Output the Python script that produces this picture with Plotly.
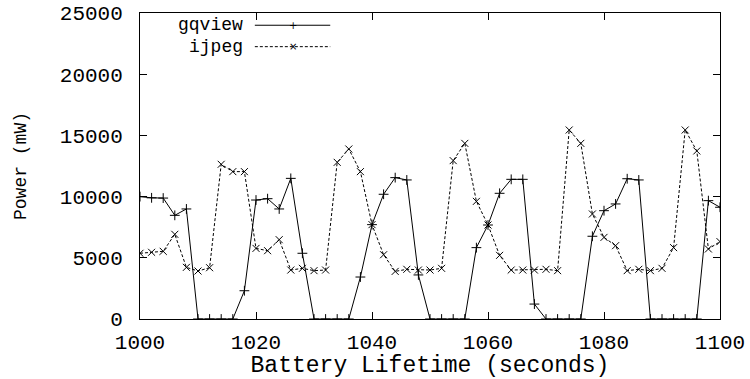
import plotly.graph_objects as go

time_s = list(range(1000, 1101, 2))
gqview = [10000, 9900, 9880, 8470, 8990, 0, 0, 0, 0, 2310,
          9720, 9830, 8990, 11490, 5370, 0, 0, 0, 0, 3430,
          7710, 10190, 11550, 11360, 3600, 0, 0, 0, 0, 5830,
          7680, 10270, 11410, 11410, 1220, 0, 0, 0, 0, 6760,
          8850, 9400, 11460, 11360, 0, 0, 0, 0, 0, 9670, 9130]
ijpeg = [5370, 5450, 5530, 6920, 4220, 3920, 4190, 12640, 12040, 12040,
         5770, 5580, 6480, 4000, 4140, 3950, 4000, 12800, 13890, 12040,
         7710, 5250, 3890, 4060, 4000, 4000, 4140, 12940, 14350, 9610,
         7680, 5200, 4000, 4000, 4000, 4060, 3950, 15440, 14350, 8580,
         6670, 5990, 3950, 4060, 3950, 4140, 5830, 15440, 13730, 5720, 6320]
x_ticks = [1000, 1020, 1040, 1060, 1080, 1100]
y_ticks = [0, 5000, 10000, 15000, 20000, 25000]

FONT = "Liberation Mono"
FS = 21

fig = go.Figure()
fig.add_trace(go.Scatter(x=time_s, y=gqview, mode="lines+markers", name="gqview",
                         line=dict(color="black", width=1),
                         marker=dict(symbol="cross-thin", size=7, line=dict(color="black", width=1))))
fig.add_trace(go.Scatter(x=time_s, y=ijpeg, mode="lines+markers", name="ijpeg",
                         line=dict(color="black", width=1, dash="3px,2px"),
                         marker=dict(symbol="x-thin", size=7, line=dict(color="black", width=1))))

# gnuplot-style legend (text, then sample)
legend_rows = [("gqview", "solid", "+", 0.960), ("ijpeg", "3px,2px", "×", 0.890)]
for name, dash, sym, yp in legend_rows:
    fig.add_annotation(x=0.181, y=yp, xref="paper", yref="paper", text=name, showarrow=False,
                       xanchor="right", yanchor="middle",
                       font=dict(family=FONT, size=18, color="black"))
    fig.add_shape(type="line", xref="paper", yref="paper", x0=0.198, x1=0.328, y0=yp, y1=yp,
                  line=dict(color="black", width=1, dash=dash))
    fig.add_annotation(x=0.263, y=yp, xref="paper", yref="paper", text=sym, showarrow=False,
                       xanchor="center", yanchor="middle",
                       font=dict(family="DejaVu Sans", size=10, color="black"))

fig.update_layout(
    width=750, height=379,
    margin=dict(l=140, r=30, t=13, b=60),
    paper_bgcolor="white", plot_bgcolor="white",
    showlegend=False,
    font=dict(family=FONT, size=FS, color="black"),
    xaxis=dict(range=[1000, 1100], tickvals=x_ticks, ticktext=[str(v) for v in x_ticks],
               ticks="inside", ticklen=7, tickcolor="black", showline=True, linecolor="black",
               linewidth=1, mirror="ticks", showgrid=False, zeroline=False, automargin=False,
               ticklabelstandoff=4,
               title=dict(text="Battery Lifetime (seconds)", standoff=0, font=dict(family=FONT, size=23))),
    yaxis=dict(range=[0, 25000], tickvals=y_ticks, ticktext=[str(v) for v in y_ticks],
               ticks="inside", ticklen=7, tickcolor="black", showline=True, linecolor="black",
               linewidth=1, mirror="ticks", showgrid=False, zeroline=False, automargin=False,
               ticklabelstandoff=12,
               title=dict(text="Power (mW)", standoff=28, font=dict(family=FONT, size=18))),
)

fig.write_html("out.html")
